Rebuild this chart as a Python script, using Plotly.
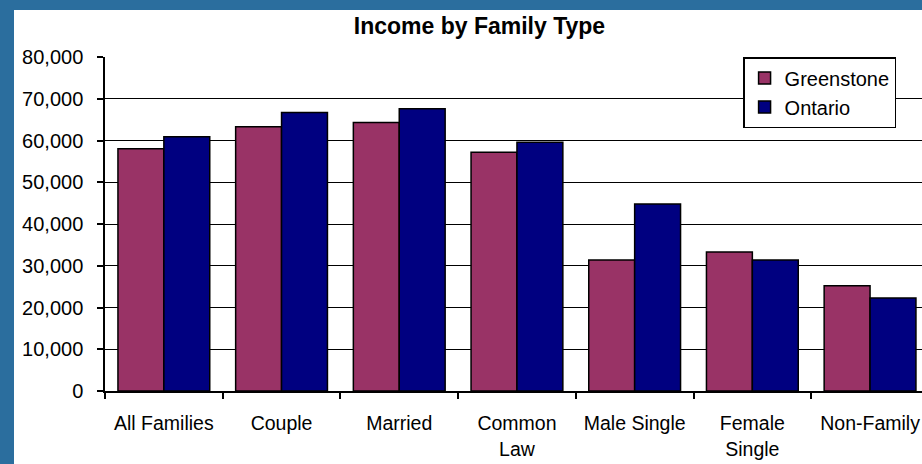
import plotly.graph_objects as go

categories = ["All Families", "Couple", "Married", "Common<br>Law", "Male Single", "Female<br>Single", "Non-Family"]
greenstone = [58000, 63300, 64300, 57200, 31400, 33300, 25200]
ontario = [60900, 66700, 67600, 59600, 44800, 31400, 22300]

FONT = "Liberation Sans, Arial, sans-serif"

fig = go.Figure()
fig.add_trace(go.Bar(name="Greenstone", x=categories, y=greenstone,
                     marker=dict(color="#993366", line=dict(color="#000000", width=1.5))))
fig.add_trace(go.Bar(name="Ontario", x=categories, y=ontario,
                     marker=dict(color="#000080", line=dict(color="#000000", width=1.5))))

fig.update_layout(
    width=922, height=464, autosize=False,
    margin=dict(l=105, r=0, t=57, b=73, autoexpand=False),
    paper_bgcolor="#2B6E9E",
    plot_bgcolor="#FFFFFF",
    barmode="group", bargap=0.22, bargroupgap=0,
    font=dict(family=FONT, size=20, color="#000000"),
    title=dict(text="<b>Income by Family Type</b>", x=0.52, xanchor="center",
               y=1 - 26 / 464, yanchor="middle", yref="container",
               font=dict(family=FONT, size=23, color="#000000")),
    legend=dict(x=0.781, y=1.0, xanchor="left", yanchor="top",
                bgcolor="#FFFFFF", bordercolor="#000000", borderwidth=1.5,
                font=dict(family=FONT, size=20, color="#000000"),
                itemwidth=30, tracegroupgap=0),
    shapes=[dict(type="rect", xref="paper", yref="paper",
                 x0=(14 - 105) / 817, x1=1.05, y0=-0.4, y1=(391 - 10) / 334,
                 fillcolor="#FFFFFF", line=dict(width=0), layer="below")],
)

fig.update_xaxes(type="category", range=[-0.5, -0.5 + 817 / 117.7], automargin=False,
                 showline=True, linecolor="#000000", linewidth=1.5,
                 ticks="outside", ticklen=6, tickcolor="#000000", tickwidth=1.5,
                 tickson="boundaries", showgrid=False, ticklabelstandoff=14,
                 tickfont=dict(family=FONT, size=19.5, color="#000000"))
fig.update_yaxes(range=[0, 80000], dtick=10000, tickformat=",d", automargin=False,
                 showline=True, linecolor="#000000", linewidth=1.5,
                 ticks="outside", ticklen=6, tickcolor="#000000", tickwidth=1.5,
                 showgrid=True, gridcolor="#000000", gridwidth=1.2,
                 zeroline=False, ticklabelstandoff=10,
                 tickfont=dict(family=FONT, size=20, color="#000000"))

fig.write_html("out.html", config={"displayModeBar": False},
               post_script="document.body.style.margin='0';")
